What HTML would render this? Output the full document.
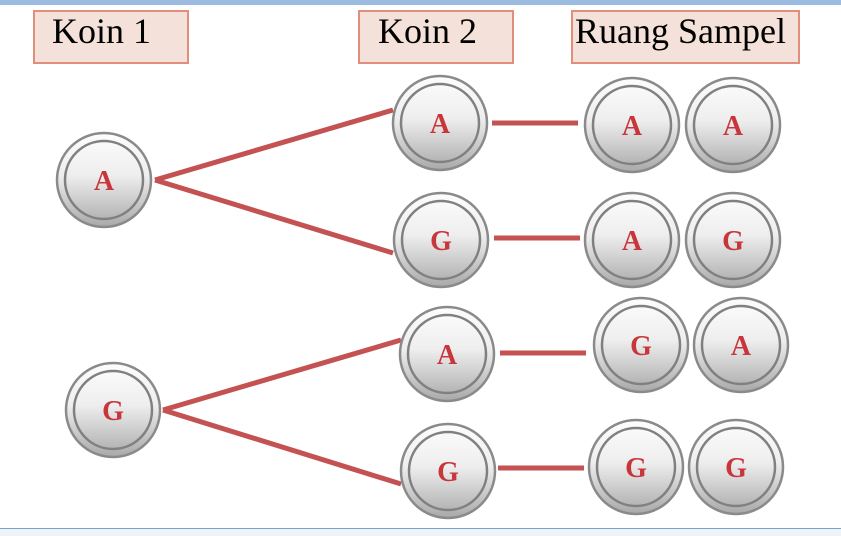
<!DOCTYPE html>
<html><head><style>
body{margin:0;width:841px;height:535px;overflow:hidden;background:#fff;position:relative;font-family:"Liberation Serif",serif}
.top{position:absolute;left:0;top:0;width:841px;height:5px;background:#9bbbe0}
.bot{position:absolute;left:0;top:528px;width:841px;height:7px;background:#eef3f9;border-top:1px solid #7fa3cf}
.lab{position:absolute;top:10px;height:50px;background:#f4e1da;border:2px solid #df8f7c;font-size:36px;line-height:38px;color:#000;white-space:nowrap}
</style></head><body>
<div class="top"></div>
<div class="lab" style="left:33px;width:152px;"><span style="margin-left:17px">Koin 1</span></div>
<div class="lab" style="left:358px;width:152px;"><span style="margin-left:18px">Koin 2</span></div>
<div class="lab" style="left:571px;width:225px;"><span style="margin-left:2px">Ruang Sampel</span></div>
<svg width="841" height="535" style="position:absolute;left:0;top:0">
<defs><linearGradient id="g" x1="0" y1="0" x2="0" y2="1"><stop offset="0" stop-color="#fdfdfd"/><stop offset="0.45" stop-color="#eeeeee"/><stop offset="1" stop-color="#a9a9a9"/></linearGradient>
<g id="c"><circle r="47" fill="url(#g)" stroke="#8a8a8a" stroke-width="2.5"/><circle r="39" fill="none" stroke="#808080" stroke-width="2.5"/></g></defs>
<g stroke="#c55252" stroke-width="5" stroke-linecap="butt">
<line x1="155" y1="180" x2="393" y2="110"/><line x1="155" y1="180" x2="393" y2="253"/>
<line x1="163" y1="410" x2="401" y2="340"/><line x1="163" y1="410" x2="401" y2="484"/>
<line x1="492" y1="123" x2="578" y2="123"/><line x1="494" y1="238" x2="580" y2="238"/>
<line x1="500" y1="353" x2="586" y2="353"/><line x1="498" y1="468" x2="584" y2="468"/>
</g>
<g font-family="Liberation Serif,serif" font-weight="bold" font-size="28" fill="#c8353a" text-anchor="middle">
<use href="#c" x="104" y="180"/><text x="104" y="190">A</text>
<use href="#c" x="113" y="410"/><text x="113" y="420">G</text>
<use href="#c" x="440" y="123"/><text x="440" y="133">A</text>
<use href="#c" x="441" y="240"/><text x="441" y="250">G</text>
<use href="#c" x="447" y="354"/><text x="447" y="364">A</text>
<use href="#c" x="448" y="471"/><text x="448" y="481">G</text>
<use href="#c" x="632" y="125"/><text x="632" y="135">A</text>
<use href="#c" x="733" y="125"/><text x="733" y="135">A</text>
<use href="#c" x="632" y="240"/><text x="632" y="250">A</text>
<use href="#c" x="733" y="240"/><text x="733" y="250">G</text>
<use href="#c" x="641" y="345"/><text x="641" y="355">G</text>
<use href="#c" x="741" y="345"/><text x="741" y="355">A</text>
<use href="#c" x="636" y="467"/><text x="636" y="477">G</text>
<use href="#c" x="736" y="467"/><text x="736" y="477">G</text>
</g>
</svg>
<div class="bot"></div>
</body></html>
